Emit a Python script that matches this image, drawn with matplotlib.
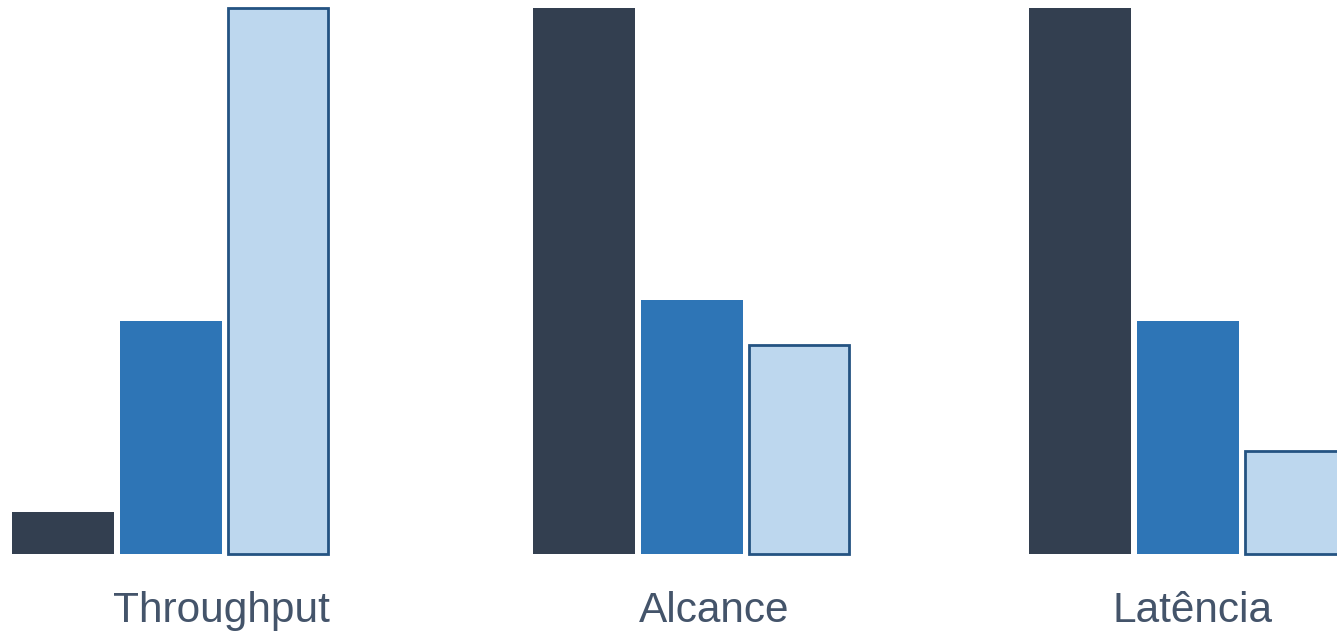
import matplotlib.pyplot as plt

# values, scaled so the tallest bar is 100
CATEGORIES = ["Throughput", "Alcance", "Latência"]
SERIES_DARK = [7.7, 100, 100]
SERIES_MEDIUM = [42.7, 46.5, 42.7]
SERIES_LIGHT = [100, 38.3, 18.9]

# layout (pixel-like units across the figure width)
GROUP_CENTERS = [171, 692, 1188]
LABEL_CENTERS = [221, 714, 1193]
BAR_OFFSETS = [-108, 0, 107]
BAR_WIDTHS = [102, 102, 100]

COLOR_DARK = "#333F50"
COLOR_MEDIUM = "#2E75B6"
COLOR_LIGHT = "#BDD7EE"
COLOR_EDGE = "#245382"
TEXT_COLOR = "#44546A"

fig = plt.figure(figsize=(13.37, 6.33), dpi=100)
ax = fig.add_axes([0, 79 / 633, 1, 546 / 633])

series = [
    (SERIES_DARK, COLOR_DARK, "none", 0),
    (SERIES_MEDIUM, COLOR_MEDIUM, "none", 0),
    (SERIES_LIGHT, COLOR_LIGHT, COLOR_EDGE, 2),
]
for offset, width, (values, color, edge, lw) in zip(BAR_OFFSETS, BAR_WIDTHS, series):
    positions = [c + offset for c in GROUP_CENTERS]
    ax.bar(positions, values, width=width, color=color,
           edgecolor=edge, linewidth=lw, clip_on=False)

for x, label in zip(LABEL_CENTERS, CATEGORIES):
    ax.text(x, -12.4, label, ha="center", va="baseline", fontsize=30.5,
            color=TEXT_COLOR, family=["Liberation Sans", "DejaVu Sans"],
            clip_on=False)

ax.set_xlim(0, 1337)
ax.set_ylim(0, 100)
ax.axis("off")

fig.savefig("out.png", dpi=100)
